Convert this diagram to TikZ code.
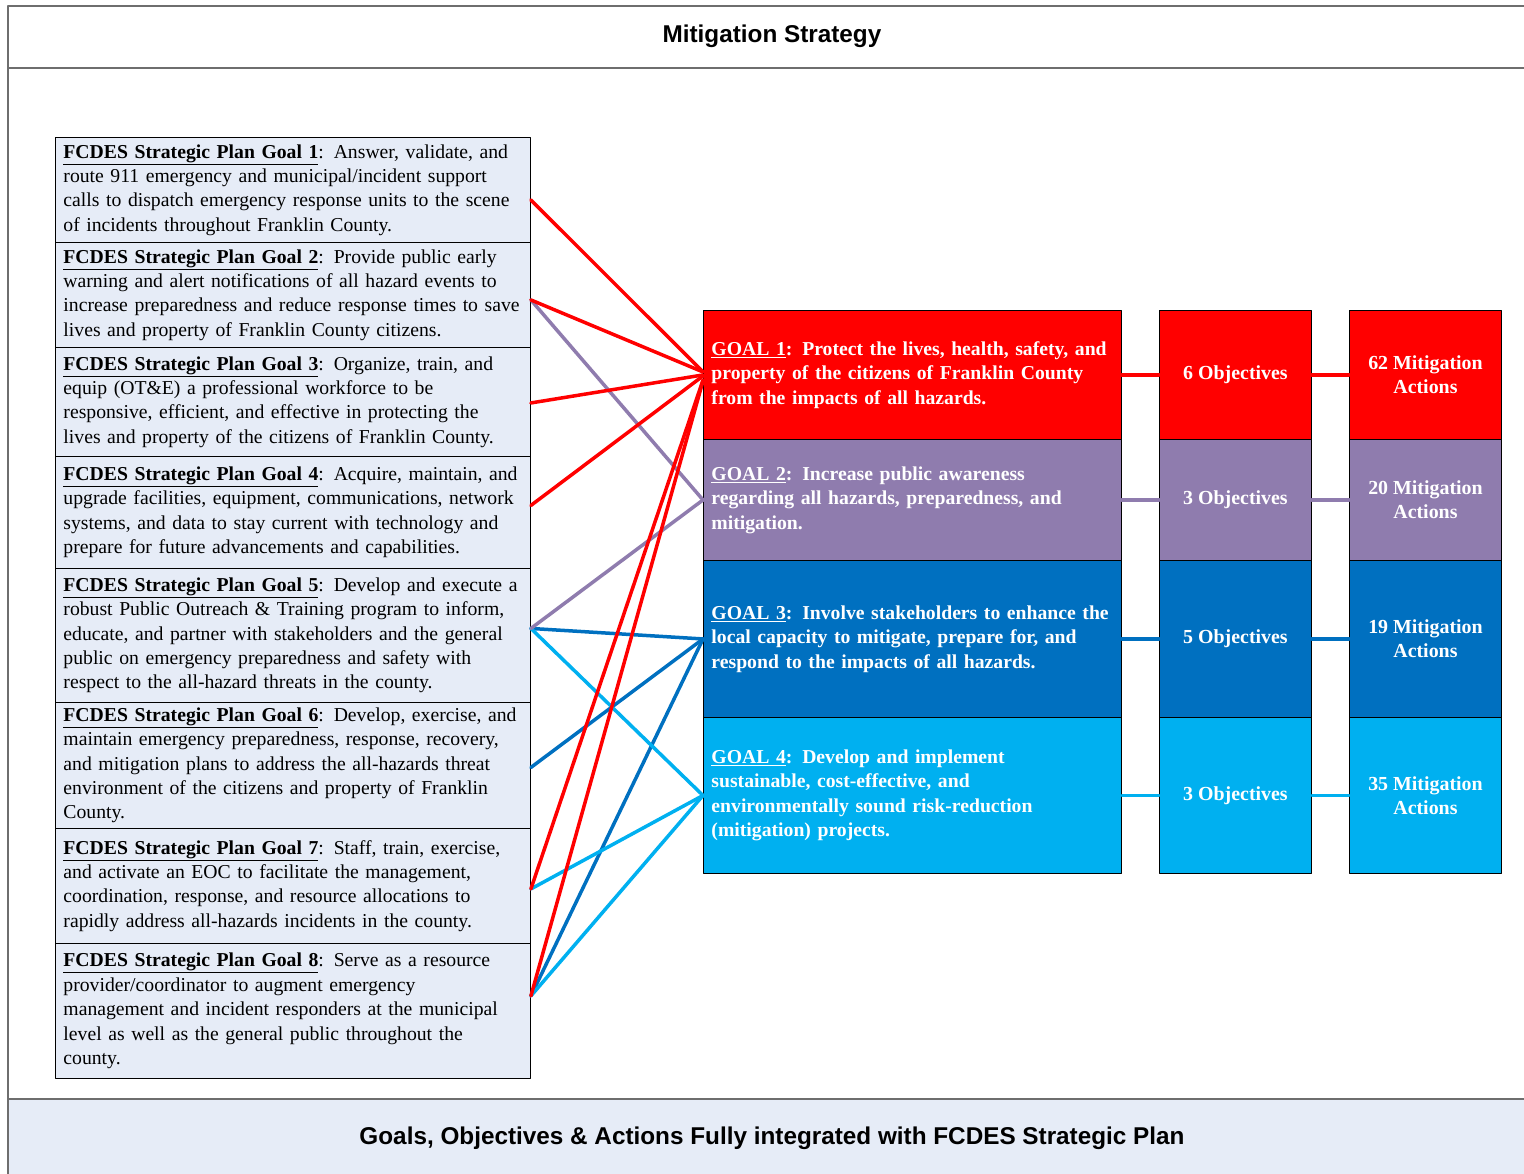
\documentclass[tikz,border=0pt]{standalone}
\usepackage{fontspec}
\setmainfont{Liberation Serif}
\newfontfamily\headfont{Liberation Sans}
\usetikzlibrary{positioning}
\definecolor{goalred}{HTML}{FF0000}
\definecolor{goalpurple}{HTML}{8F7CAE}
\definecolor{goalblue}{HTML}{0070C0}
\definecolor{goalcyan}{HTML}{00B0F0}
\definecolor{planfill}{HTML}{E6ECF7}
\definecolor{framegray}{HTML}{6E6E6E}
\newcommand{\spgoal}[1]{\underline{\textbf{FCDES Strategic Plan Goal #1}}}
\begin{document}
\begin{tikzpicture}[x=1pt, y=-1pt, line join=round, line cap=round]
	\tikzset{
		plan/.style={draw=black, line width=0.9pt, fill=planfill, anchor=north west, minimum width=475pt, text width=459pt, inner xsep=8pt, inner ysep=0pt, align=left, font=\fontsize{19.7}{24.4}\selectfont},
		goalbox/.style={draw=black, line width=0.9pt, anchor=north west, minimum width=418pt, text width=402pt, inner xsep=8pt, inner ysep=0pt, align=left, text=white, font=\bfseries\fontsize{19.7}{24.4}\selectfont},
		countbox/.style={draw=black, line width=0.9pt, anchor=north west, minimum width=152pt, inner sep=0pt, align=center, text=white, font=\bfseries\fontsize{19.9}{24.4}\selectfont},
		link/.style={line width=3.5pt, draw=#1}
	}
	\useasboundingbox (0,0) rectangle (1524,1174);
	\begin{scope}
		\clip (0,0) rectangle (1524,1174);
		\fill[planfill] (8,1099) rectangle (1540,1190);
		\draw[framegray, line width=1.3pt] (8,1190)--(8,6)--(1540,6) (8,68)--(1540,68) (8,1099)--(1540,1099);
	\end{scope}
	\node[font=\headfont\bfseries\fontsize{24.3}{28}\selectfont] (title) at (772,36) {Mitigation Strategy};
	\node[font=\headfont\bfseries\fontsize{24.3}{28}\selectfont] (footer) at (772,1138) {Goals, Objectives \& Actions Fully integrated with FCDES Strategic Plan};

	\node[plan, minimum height=105pt] (sp1) at (55,137) {\spgoal{1}:  Answer, validate, and\\ route 911 emergency and municipal/incident support\\ calls to dispatch emergency response units to the scene\\ of incidents throughout Franklin County.};
	\node[plan, minimum height=105pt] (sp2) at (55,242) {\spgoal{2}:  Provide public early\\ warning and alert notifications of all hazard events to\\ increase preparedness and reduce response times to save\\ lives and property of Franklin County citizens.};
	\node[plan, minimum height=109pt] (sp3) at (55,347) {\spgoal{3}:  Organize, train, and\\ equip (OT\&E) a professional workforce to be\\ responsive, efficient, and effective in protecting the\\ lives and property of the citizens of Franklin County.};
	\node[plan, minimum height=112pt] (sp4) at (55,456) {\spgoal{4}:  Acquire, maintain, and\\ upgrade facilities, equipment, communications, network\\ systems, and data to stay current with technology and\\ prepare for future advancements and capabilities.};
	\node[plan, minimum height=134pt] (sp5) at (55,568) {\spgoal{5}:  Develop and execute a\\ robust Public Outreach \& Training program to inform,\\ educate, and partner with stakeholders and the general\\ public on emergency preparedness and safety with\\ respect to the all-hazard threats in the county.};
	\node[plan, minimum height=126pt] (sp6) at (55,702) {\spgoal{6}:  Develop, exercise, and\\ maintain emergency preparedness, response, recovery,\\ and mitigation plans to address the all-hazards threat\\ environment of the citizens and property of Franklin\\ County.};
	\node[plan, minimum height=115pt] (sp7) at (55,828) {\spgoal{7}:  Staff, train, exercise,\\ and activate an EOC to facilitate the management,\\ coordination, response, and resource allocations to\\ rapidly address all-hazards incidents in the county.};
	\node[plan, minimum height=135pt] (sp8) at (55,943) {\spgoal{8}:  Serve as a resource\\ provider/coordinator to augment emergency\\ management and incident responders at the municipal\\ level as well as the general public throughout the\\ county.};

	\foreach \i/\yt/\yb/\c/\txt/\nob/\nact in {
		1/310/439/goalred/{\underline{GOAL 1}:  Protect the lives, health, safety, and\\ property of the citizens of Franklin County\\ from the impacts of all hazards.}/6/62,
		2/439/560/goalpurple/{\underline{GOAL 2}:  Increase public awareness\\ regarding all hazards, preparedness, and\\ mitigation.}/3/20,
		3/560/717/goalblue/{\underline{GOAL 3}:  Involve stakeholders to enhance the\\ local capacity to mitigate, prepare for, and\\ respond to the impacts of all hazards.}/5/19,
		4/717/873/goalcyan/{\underline{GOAL 4}:  Develop and implement\\ sustainable, cost-effective, and\\ environmentally sound risk-reduction\\ (mitigation) projects.}/3/35}{
		\node[goalbox, fill=\c, minimum height=\yb-\yt] (goal\i) at (703,\yt) {\txt};
		\node[countbox, fill=\c, minimum height=\yb-\yt] (obj\i) at (1159,\yt) {\nob{} Objectives};
		\node[countbox, fill=\c, minimum height=\yb-\yt] (act\i) at (1349,\yt) {\nact{} Mitigation\\ Actions};
		\draw[link=\c] (goal\i.east)--(obj\i.west) (obj\i.east)--(act\i.west);
	}

	\foreach \i/\s in {1/-10,2/-5,3/-1,4/7,5/7,6/-2,7/-3,8/15} \coordinate (p\i) at ([yshift=\s pt]sp\i.east);
	\foreach \a/\b/\c in {5/3/goalblue, 6/3/goalblue, 8/3/goalblue, 5/4/goalcyan, 7/4/goalcyan, 8/4/goalcyan, 2/2/goalpurple, 5/2/goalpurple}
		\draw[link=\c] (p\a)--(goal\b.west);
	\foreach \a/\s in {1/3,2/3,3/0,4/-1,7/-5,8/-6}
		\draw[link=goalred] (p\a)--([yshift=\s pt]goal1.west);
\end{tikzpicture}
\end{document}
